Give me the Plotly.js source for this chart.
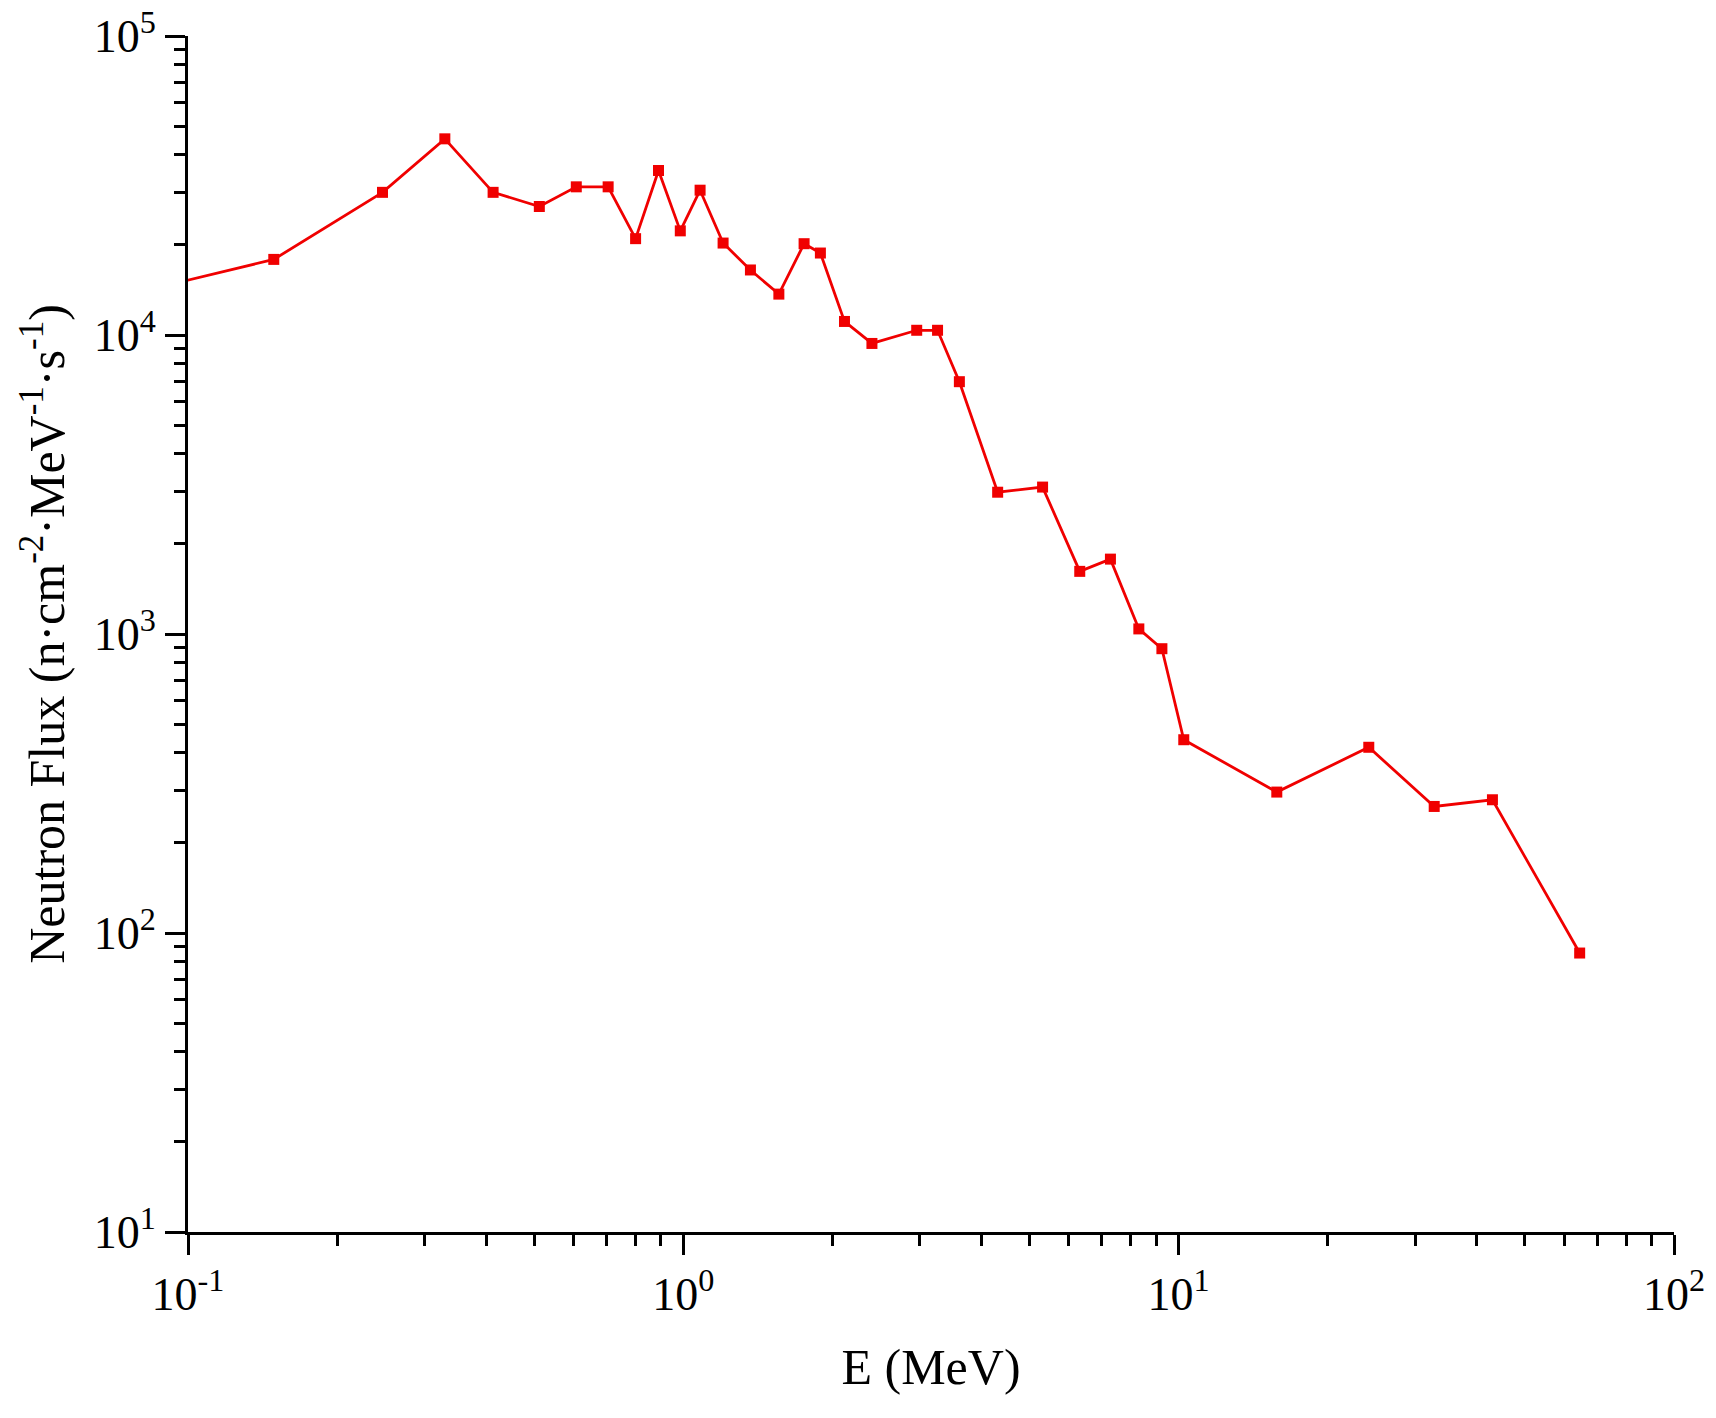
<!DOCTYPE html>
<html>
<head>
<meta charset="utf-8">
<script src="https://cdn.plot.ly/plotly-3.0.1.min.js"></script>
<style>
  html, body { margin: 0; padding: 0; background: #fff; }
  #chart { width: 1716px; height: 1418px; }
</style>
</head>
<body>
<div id="chart"></div>
<script>
// energy (MeV) and flux (n/cm2/MeV/s)
const energy = [0.08, 0.149, 0.247, 0.330, 0.413, 0.512, 0.608, 0.705, 0.801, 0.891, 0.986,
  1.081, 1.203, 1.366, 1.559, 1.753, 1.891, 2.115, 2.403, 2.959, 3.260, 3.608,
  4.311, 5.312, 6.314, 7.282, 8.31, 9.25, 10.24, 15.78, 24.2, 32.8, 43.0, 64.5];
const flux = [13960, 17900, 30000, 45300, 30000, 26900, 31300, 31300, 21000, 35500, 22300,
  30500, 20300, 16500, 13700, 20200, 18800, 11100, 9370, 10370, 10370, 6980,
  2980, 3100, 1620, 1780, 1040, 893, 443, 296, 418, 265, 279, 85.7];

const xTickVals = [0.1, 1, 10, 100];
const xTickText = ["10<sup>-1</sup>", "10<sup>0</sup>", "10<sup>1</sup>", "10<sup>2</sup>"];
const yTickVals = [10, 100, 1000, 10000, 100000];
const yTickText = ["10<sup>1</sup>", "10<sup>2</sup>", "10<sup>3</sup>", "10<sup>4</sup>", "10<sup>5</sup>"];

const font = "Liberation Serif, Times New Roman, serif";

const spectrum = {
  x: energy,
  y: flux,
  type: "scatter",
  mode: "lines+markers",
  line: { color: "rgb(240,0,0)", width: 2.8 },
  marker: { symbol: "square", size: 11, color: "rgb(240,0,0)" },
  showlegend: false
};

const axisBase = {
  type: "log",
  showgrid: false,
  zeroline: false,
  showline: true,
  linecolor: "#000",
  linewidth: 3,
  ticks: "outside",
  ticklen: 20,
  tickwidth: 3,
  tickcolor: "#000",
  tickmode: "array",
  tickfont: { family: font, size: 46, color: "#000" },
  minor: { ticks: "outside", ticklen: 11, tickwidth: 3, tickcolor: "#000", dtick: "D1", showgrid: false }
};

const layout = {
  width: 1716,
  height: 1418,
  margin: { l: 188, r: 42, t: 36, b: 186 },
  paper_bgcolor: "#fff",
  plot_bgcolor: "#fff",
  font: { family: font, color: "#000" },
  xaxis: Object.assign({}, axisBase, {
    range: [-1, 2],
    tickvals: xTickVals,
    ticktext: xTickText,
    title: { text: "E (MeV)", font: { family: font, size: 50 }, standoff: 30 }
  }),
  yaxis: Object.assign({}, axisBase, {
    range: [1, 5],
    tickvals: yTickVals,
    ticktext: yTickText,
    title: {
      text: "Neutron Flux (n·cm<sup>-2</sup>·MeV<sup>-1</sup>·s<sup>-1</sup>)",
      font: { family: font, size: 50 },
      standoff: 14
    }
  })
};

Plotly.newPlot("chart", [spectrum], layout, { displayModeBar: false, staticPlot: true });
</script>
</body>
</html>
